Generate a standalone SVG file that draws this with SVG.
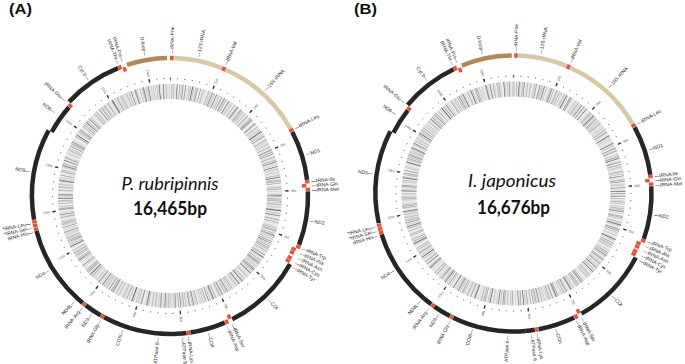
<svg xmlns="http://www.w3.org/2000/svg" width="685" height="364" viewBox="0 0 685 364">
<style>
.s{fill:none;stroke-width:4.5}
.dk{stroke:#262626}.tn{stroke:#d8c9a2}.br{stroke:#b7875a}.rd{stroke:#e2553a}
.lr,.ll{font-family:"Liberation Sans",Arial,sans-serif;font-size:5px;fill:#2a2a2a}
.lr{text-anchor:start}.ll{text-anchor:end}
.tr,.tl{font-family:"Liberation Sans",Arial,sans-serif;font-size:3.4px;fill:#555}
.tr{text-anchor:start}.tl{text-anchor:end}
.b0{fill:none;stroke:#eeeeee;stroke-width:15}
.b1{fill:none;stroke:#d2d2d2;stroke-width:15;stroke-dasharray:0.7 1.1 0.4 0.9 1.3 0.6 0.5 1.8 0.9 0.5 0.3 1.2 1.6 0.7 0.4 1.0 0.8 2.1 0.5 0.6 1.1 0.9 0.3 1.5}
.b2{fill:none;stroke:#a3a3a3;stroke-width:15;stroke-dasharray:0.4 2.2 0.6 3.1 0.3 1.4 0.8 4.3 0.4 2.6 0.5 1.7 0.3 3.8 0.7 2.0 0.4 5.2 0.6 1.1 0.3 2.9}
.b3{fill:none;stroke:#4a4a4a;stroke-width:15;stroke-dasharray:0.3 7.6 0.45 4.3 0.3 9.9 0.5 3.4 0.3 12.8 0.4 5.1 0.3 8.7 0.6 4.6 0.3 14.2 0.4 3.8}
.dot{fill:none;stroke:#555;stroke-width:1}
.maj{fill:none;stroke:#333;stroke-width:3.5}
.sp{font-family:Lato,"Open Sans",sans-serif;font-style:italic;font-size:18px;fill:#111;text-anchor:middle}
.bp{font-family:Lato,"Open Sans",sans-serif;font-weight:bold;font-size:18px;fill:#111;text-anchor:middle}
.ttl{font-family:"Liberation Sans",Arial,sans-serif;font-weight:bold;font-size:14px;fill:#111}
</style>
<text class="ttl" x="9" y="14" textLength="23" lengthAdjust="spacingAndGlyphs">(A)</text>
<text class="ttl" x="354" y="14" textLength="23" lengthAdjust="spacingAndGlyphs">(B)</text>

<g id="mapA" transform="translate(170,196)">
 <g id="A-band">
  <circle class="b0" r="104.5"/><circle class="b1" r="104.5"/><circle class="b2" r="104.5"/><circle class="b3" r="104.5" transform="rotate(37)"/>
 </g>
 <g id="A-scale">
  <circle class="dot" r="117.5" pathLength="16465" stroke-dasharray="25 141.67" stroke-dashoffset="12.5" transform="rotate(-90)"/>
  <circle class="maj" r="117" pathLength="16465" stroke-dasharray="30 970" stroke-dashoffset="15" transform="rotate(-90)"/>
  <text class="tr" transform="rotate(21.87) translate(0,-121) rotate(-90)" dy="1.2">1kb</text>
  <text class="tr" transform="rotate(43.73) translate(0,-121) rotate(-90)" dy="1.2">2kb</text>
  <text class="tr" transform="rotate(65.6) translate(0,-121) rotate(-90)" dy="1.2">3kb</text>
  <text class="tr" transform="rotate(87.46) translate(0,-121) rotate(-90)" dy="1.2">4kb</text>
  <text class="tr" transform="rotate(109.33) translate(0,-121) rotate(-90)" dy="1.2">5kb</text>
  <text class="tr" transform="rotate(131.19) translate(0,-121) rotate(-90)" dy="1.2">6kb</text>
  <text class="tr" transform="rotate(153.06) translate(0,-121) rotate(-90)" dy="1.2">7kb</text>
  <text class="tr" transform="rotate(174.92) translate(0,-121) rotate(-90)" dy="1.2">8kb</text>
  <text class="tl" transform="rotate(196.79) translate(0,-121) rotate(90)" dy="1.2">9kb</text>
  <text class="tl" transform="rotate(218.65) translate(0,-121) rotate(90)" dy="1.2">10kb</text>
  <text class="tl" transform="rotate(240.52) translate(0,-121) rotate(90)" dy="1.2">11kb</text>
  <text class="tl" transform="rotate(262.38) translate(0,-121) rotate(90)" dy="1.2">12kb</text>
  <text class="tl" transform="rotate(284.25) translate(0,-121) rotate(90)" dy="1.2">13kb</text>
  <text class="tl" transform="rotate(306.11) translate(0,-121) rotate(90)" dy="1.2">14kb</text>
  <text class="tl" transform="rotate(327.98) translate(0,-121) rotate(90)" dy="1.2">15kb</text>
  <text class="tl" transform="rotate(349.84) translate(0,-121) rotate(90)" dy="1.2">16kb</text>
 </g>
 <g id="A-genes">
  <g id="A-12S"><circle class="s tn" r="138" pathLength="360" stroke-dasharray="20.6 999" transform="rotate(-88.4)"/><text class="lr" transform="rotate(11.5) translate(0,-142) rotate(-90)" dy="1.7">—12S rRNA</text></g>
  <g id="A-16S"><circle class="s tn" r="138" pathLength="360" stroke-dasharray="37 999" transform="rotate(-66.2)"/><text class="lr" transform="rotate(42) translate(0,-142) rotate(-90)" dy="1.7">—16S rRNA</text></g>
  <g id="A-ND1"><circle class="s dk" r="138" pathLength="360" stroke-dasharray="20.9 999" transform="rotate(-27.6)"/><text class="lr" transform="rotate(73) translate(0,-142) rotate(-90)" dy="1.7">—ND1</text></g>
  <g id="A-ND2"><circle class="s dk" r="138" pathLength="360" stroke-dasharray="22.6 999" transform="rotate(-1.9)"/><text class="lr" transform="rotate(100) translate(0,-142) rotate(-90)" dy="1.7">—ND2</text></g>
  <g id="A-COI"><circle class="s dk" r="138" pathLength="360" stroke-dasharray="33.6 999" transform="rotate(29.6)"/><text class="lr" transform="rotate(136.4) translate(0,-142) rotate(-90)" dy="1.7">—COI</text></g>
  <g id="A-COII"><circle class="s dk" r="138" pathLength="360" stroke-dasharray="14.9 999" transform="rotate(66.6)"/><text class="lr" transform="rotate(164.2) translate(0,-142) rotate(-90)" dy="1.7">—COII</text></g>
  <g id="A-ATP8"><circle class="s dk" r="138" pathLength="360" stroke-dasharray="4 999" transform="rotate(83.1)"/><text class="lr" transform="rotate(174.8) translate(0,-142) rotate(-90)" dy="1.7">—ATPase 8</text></g>
  <g id="A-ATP6"><circle class="s dk" r="138" pathLength="360" stroke-dasharray="16.1 999" transform="rotate(87)"/><text class="ll" transform="rotate(185) translate(0,-142) rotate(90)" dy="1.7">ATPase 6—</text></g>
  <g id="A-COIII"><circle class="s dk" r="138" pathLength="360" stroke-dasharray="15.5 999" transform="rotate(103)"/><text class="ll" transform="rotate(199.5) translate(0,-142) rotate(90)" dy="1.7">COIII—</text></g>
  <g id="A-ND3"><circle class="s dk" r="138" pathLength="360" stroke-dasharray="7.5 999" transform="rotate(120.1)"/><text class="ll" transform="rotate(213.8) translate(0,-142) rotate(90)" dy="1.7">ND3—</text></g>
  <g id="A-ND4L"><circle class="s dk" r="138" pathLength="360" stroke-dasharray="3.4 999" transform="rotate(129.2)"/><text class="ll" transform="rotate(222.3) translate(0,-142) rotate(90)" dy="1.7">ND4L—</text></g>
  <g id="A-ND4"><circle class="s dk" r="138" pathLength="360" stroke-dasharray="32.9 999" transform="rotate(132.4)"/><text class="ll" transform="rotate(238.5) translate(0,-142) rotate(90)" dy="1.7">ND4—</text></g>
  <g id="A-ND5"><circle class="s dk" r="138" pathLength="360" stroke-dasharray="38.3 999" transform="rotate(170.1)"/><text class="ll" transform="rotate(280) translate(0,-142) rotate(90)" dy="1.7">ND5—</text></g>
  <g id="A-ND6"><circle class="s dk" r="134.5" pathLength="360" stroke-dasharray="12.9 999" transform="rotate(208.4)"/><text class="ll" transform="rotate(306) translate(0,-142) rotate(90)" dy="1.7">ND6—</text></g>
  <g id="A-Cytb"><circle class="s dk" r="138" pathLength="360" stroke-dasharray="24.9 999" transform="rotate(223)"/><text class="ll" transform="rotate(325) translate(0,-142) rotate(90)" dy="1.7">Cyt b—</text></g>
  <g id="A-Dloop"><circle class="s br" r="138" pathLength="360" stroke-dasharray="17 999" transform="rotate(251.8)"/><text class="ll" transform="rotate(350) translate(0,-142) rotate(90)" dy="1.7">D-loop—</text></g>
  <g id="A-tPhe"><circle class="s rd" r="138" pathLength="360" stroke-dasharray="1.5 999" transform="rotate(-90)"/><text class="lr" transform="rotate(0.8) translate(0,-142) rotate(-90)" dy="1.7">—tRNA-Phe</text></g>
  <g id="A-tVal"><circle class="s rd" r="138" pathLength="360" stroke-dasharray="1.5 999" transform="rotate(-67.8)"/><text class="lr" transform="rotate(23) translate(0,-142) rotate(-90)" dy="1.7">—tRNA-Val</text></g>
  <g id="A-tLeu"><circle class="s rd" r="138" pathLength="360" stroke-dasharray="1.5 999" transform="rotate(-29.2)"/><text class="lr" transform="rotate(61.6) translate(0,-142) rotate(-90)" dy="1.7">—tRNA-Leu</text></g>
  <g id="A-tIle"><circle class="s rd" r="138" pathLength="360" stroke-dasharray="1.5 999" transform="rotate(-6.7)"/><text class="lr" transform="rotate(84) translate(0,-142) rotate(-90)" dy="1.7">—tRNA-Ile</text></g>
  <g id="A-tGln"><circle class="s rd" r="134.5" pathLength="360" stroke-dasharray="1.5 999" transform="rotate(-5.1)"/><text class="lr" transform="rotate(85.8) translate(0,-142) rotate(-90)" dy="1.7">—tRNA-Gln</text></g>
  <g id="A-tMet"><circle class="s rd" r="138" pathLength="360" stroke-dasharray="1.5 999" transform="rotate(-3.5)"/><text class="lr" transform="rotate(87.6) translate(0,-142) rotate(-90)" dy="1.7">—tRNA-Met</text></g>
  <g id="A-tTrp"><circle class="s rd" r="138" pathLength="360" stroke-dasharray="1.5 999" transform="rotate(20.8)"/><text class="lr" transform="rotate(111.7) translate(0,-142) rotate(-90)" dy="1.7">—tRNA-Trp</text></g>
  <g id="A-tAla"><circle class="s rd" r="134.5" pathLength="360" stroke-dasharray="1.5 999" transform="rotate(22.5)"/><text class="lr" transform="rotate(113.8) translate(0,-142) rotate(-90)" dy="1.7">—tRNA-Ala</text></g>
  <g id="A-tAsn"><circle class="s rd" r="134.5" pathLength="360" stroke-dasharray="1.5 999" transform="rotate(24.1)"/><text class="lr" transform="rotate(115.9) translate(0,-142) rotate(-90)" dy="1.7">—tRNA-Asn</text></g>
  <g id="A-tCys"><circle class="s rd" r="134.5" pathLength="360" stroke-dasharray="1.5 999" transform="rotate(26.4)"/><text class="lr" transform="rotate(118) translate(0,-142) rotate(-90)" dy="1.7">—tRNA-Cys</text></g>
  <g id="A-tTyr"><circle class="s rd" r="134.5" pathLength="360" stroke-dasharray="1.5 999" transform="rotate(28)"/><text class="lr" transform="rotate(120.1) translate(0,-142) rotate(-90)" dy="1.7">—tRNA-Tyr</text></g>
  <g id="A-tSer1"><circle class="s rd" r="134.5" pathLength="360" stroke-dasharray="1.5 999" transform="rotate(63.2)"/><text class="lr" transform="rotate(154) translate(0,-142) rotate(-90)" dy="1.7">—tRNA-Ser</text></g>
  <g id="A-tAsp"><circle class="s rd" r="138" pathLength="360" stroke-dasharray="1.5 999" transform="rotate(65)"/><text class="lr" transform="rotate(156.2) translate(0,-142) rotate(-90)" dy="1.7">—tRNA-Asp</text></g>
  <g id="A-tLys"><circle class="s rd" r="138" pathLength="360" stroke-dasharray="1.5 999" transform="rotate(81.5)"/><text class="lr" transform="rotate(172.4) translate(0,-142) rotate(-90)" dy="1.7">—tRNA-Lys</text></g>
  <g id="A-tGly"><circle class="s rd" r="138" pathLength="360" stroke-dasharray="1.5 999" transform="rotate(118.5)"/><text class="ll" transform="rotate(209.3) translate(0,-142) rotate(90)" dy="1.7">tRNA-Gly—</text></g>
  <g id="A-tArg"><circle class="s rd" r="138" pathLength="360" stroke-dasharray="1.5 999" transform="rotate(127.6)"/><text class="ll" transform="rotate(218.3) translate(0,-142) rotate(90)" dy="1.7">tRNA-Arg—</text></g>
  <g id="A-tHis"><circle class="s rd" r="138" pathLength="360" stroke-dasharray="1.5 999" transform="rotate(165.3)"/><text class="ll" transform="rotate(255.2) translate(0,-142) rotate(90)" dy="1.7">tRNA-His—</text></g>
  <g id="A-tSer2"><circle class="s rd" r="138" pathLength="360" stroke-dasharray="1.5 999" transform="rotate(166.9)"/><text class="ll" transform="rotate(257) translate(0,-142) rotate(90)" dy="1.7">*tRNA-Ser—</text></g>
  <g id="A-tLeu2"><circle class="s rd" r="138" pathLength="360" stroke-dasharray="1.5 999" transform="rotate(168.5)"/><text class="ll" transform="rotate(258.8) translate(0,-142) rotate(90)" dy="1.7">*tRNA-Leu—</text></g>
  <g id="A-tGlu"><circle class="s rd" r="134.5" pathLength="360" stroke-dasharray="1.5 999" transform="rotate(221.4)"/><text class="ll" transform="rotate(312.2) translate(0,-142) rotate(90)" dy="1.7">tRNA-Glu—</text></g>
  <g id="A-tThr"><circle class="s rd" r="138" pathLength="360" stroke-dasharray="1.5 999" transform="rotate(248)"/><text class="ll" transform="rotate(338.6) translate(0,-142) rotate(90)" dy="1.7">tRNA-Thr—</text></g>
  <g id="A-tPro"><circle class="s rd" r="134.5" pathLength="360" stroke-dasharray="1.5 999" transform="rotate(249.6)"/><text class="ll" transform="rotate(340.6) translate(0,-142) rotate(90)" dy="1.7">tRNA-Pro—</text></g>
 </g>
 <g id="A-title">
  <text class="sp" x="0" y="-6" textLength="97" lengthAdjust="spacingAndGlyphs">P. rubripinnis</text>
  <text class="bp" x="0" y="19" textLength="74" lengthAdjust="spacingAndGlyphs">16,465bp</text>
 </g>
</g>

<g id="mapB" transform="translate(513.5,193.5)">
 <g id="B-band">
  <circle class="b0" r="104.5"/><circle class="b1" r="104.5" transform="rotate(53)"/><circle class="b2" r="104.5" transform="rotate(121)"/><circle class="b3" r="104.5" transform="rotate(200)"/>
 </g>
 <g id="B-scale">
  <circle class="dot" r="117.5" pathLength="16676" stroke-dasharray="25 141.67" stroke-dashoffset="12.5" transform="rotate(-90)"/>
  <circle class="maj" r="117" pathLength="16676" stroke-dasharray="30 970" stroke-dashoffset="15" transform="rotate(-90)"/>
  <text class="tr" transform="rotate(21.59) translate(0,-121) rotate(-90)" dy="1.2">1kb</text>
  <text class="tr" transform="rotate(43.18) translate(0,-121) rotate(-90)" dy="1.2">2kb</text>
  <text class="tr" transform="rotate(64.76) translate(0,-121) rotate(-90)" dy="1.2">3kb</text>
  <text class="tr" transform="rotate(86.35) translate(0,-121) rotate(-90)" dy="1.2">4kb</text>
  <text class="tr" transform="rotate(107.94) translate(0,-121) rotate(-90)" dy="1.2">5kb</text>
  <text class="tr" transform="rotate(129.53) translate(0,-121) rotate(-90)" dy="1.2">6kb</text>
  <text class="tr" transform="rotate(151.12) translate(0,-121) rotate(-90)" dy="1.2">7kb</text>
  <text class="tr" transform="rotate(172.7) translate(0,-121) rotate(-90)" dy="1.2">8kb</text>
  <text class="tl" transform="rotate(194.29) translate(0,-121) rotate(90)" dy="1.2">9kb</text>
  <text class="tl" transform="rotate(215.88) translate(0,-121) rotate(90)" dy="1.2">10kb</text>
  <text class="tl" transform="rotate(237.47) translate(0,-121) rotate(90)" dy="1.2">11kb</text>
  <text class="tl" transform="rotate(259.06) translate(0,-121) rotate(90)" dy="1.2">12kb</text>
  <text class="tl" transform="rotate(280.64) translate(0,-121) rotate(90)" dy="1.2">13kb</text>
  <text class="tl" transform="rotate(302.23) translate(0,-121) rotate(90)" dy="1.2">14kb</text>
  <text class="tl" transform="rotate(323.82) translate(0,-121) rotate(90)" dy="1.2">15kb</text>
  <text class="tl" transform="rotate(345.41) translate(0,-121) rotate(90)" dy="1.2">16kb</text>
 </g>
 <g id="B-genes">
  <g id="B-12S"><circle class="s tn" r="138" pathLength="360" stroke-dasharray="20.8 999" transform="rotate(-88.1)"/><text class="lr" transform="rotate(11) translate(0,-142) rotate(-90)" dy="1.7">—12S rRNA</text></g>
  <g id="B-16S"><circle class="s tn" r="138" pathLength="360" stroke-dasharray="35.5 999" transform="rotate(-65.7)"/><text class="lr" transform="rotate(42) translate(0,-142) rotate(-90)" dy="1.7">—16S rRNA</text></g>
  <g id="B-ND1"><circle class="s dk" r="138" pathLength="360" stroke-dasharray="20.8 999" transform="rotate(-28.6)"/><text class="lr" transform="rotate(72) translate(0,-142) rotate(-90)" dy="1.7">—ND1</text></g>
  <g id="B-ND2"><circle class="s dk" r="138" pathLength="360" stroke-dasharray="22.2 999" transform="rotate(-3)"/><text class="lr" transform="rotate(98.6) translate(0,-142) rotate(-90)" dy="1.7">—ND2</text></g>
  <g id="B-COI"><circle class="s dk" r="138" pathLength="360" stroke-dasharray="32.9 999" transform="rotate(27.6)"/><text class="lr" transform="rotate(136) translate(0,-142) rotate(-90)" dy="1.7">—COI</text></g>
  <g id="B-COII"><circle class="s dk" r="138" pathLength="360" stroke-dasharray="15.6 999" transform="rotate(63.9)"/><text class="lr" transform="rotate(162.5) translate(0,-142) rotate(-90)" dy="1.7">—COII</text></g>
  <g id="B-ATP8"><circle class="s dk" r="138" pathLength="360" stroke-dasharray="4 999" transform="rotate(81.1)"/><text class="lr" transform="rotate(172.6) translate(0,-142) rotate(-90)" dy="1.7">—ATPase 8</text></g>
  <g id="B-ATP6"><circle class="s dk" r="138" pathLength="360" stroke-dasharray="16 999" transform="rotate(85)"/><text class="ll" transform="rotate(182.5) translate(0,-142) rotate(90)" dy="1.7">ATPase 6—</text></g>
  <g id="B-COIII"><circle class="s dk" r="138" pathLength="360" stroke-dasharray="15.1 999" transform="rotate(100.8)"/><text class="ll" transform="rotate(197) translate(0,-142) rotate(90)" dy="1.7">COIII—</text></g>
  <g id="B-ND3"><circle class="s dk" r="138" pathLength="360" stroke-dasharray="7.6 999" transform="rotate(117.4)"/><text class="ll" transform="rotate(212) translate(0,-142) rotate(90)" dy="1.7">ND3—</text></g>
  <g id="B-ND4L"><circle class="s dk" r="138" pathLength="360" stroke-dasharray="3.5 999" transform="rotate(126.6)"/><text class="ll" transform="rotate(221) translate(0,-142) rotate(90)" dy="1.7">ND4L—</text></g>
  <g id="B-ND4"><circle class="s dk" r="138" pathLength="360" stroke-dasharray="32.9 999" transform="rotate(129.9)"/><text class="ll" transform="rotate(237.3) translate(0,-142) rotate(90)" dy="1.7">ND4—</text></g>
  <g id="B-ND5"><circle class="s dk" r="138" pathLength="360" stroke-dasharray="39.2 999" transform="rotate(167.6)"/><text class="ll" transform="rotate(278) translate(0,-142) rotate(90)" dy="1.7">ND5—</text></g>
  <g id="B-ND6"><circle class="s dk" r="134.5" pathLength="360" stroke-dasharray="11.4 999" transform="rotate(206.8)"/><text class="ll" transform="rotate(304) translate(0,-142) rotate(90)" dy="1.7">ND6—</text></g>
  <g id="B-Cytb"><circle class="s dk" r="138" pathLength="360" stroke-dasharray="24.4 999" transform="rotate(219.9)"/><text class="ll" transform="rotate(322.7) translate(0,-142) rotate(90)" dy="1.7">Cyt b—</text></g>
  <g id="B-Dloop"><circle class="s br" r="138" pathLength="360" stroke-dasharray="21.3 999" transform="rotate(248)"/><text class="ll" transform="rotate(347.5) translate(0,-142) rotate(90)" dy="1.7">D-loop—</text></g>
  <g id="B-tPhe"><circle class="s rd" r="138" pathLength="360" stroke-dasharray="1.5 999" transform="rotate(-89.7)"/><text class="lr" transform="rotate(1) translate(0,-142) rotate(-90)" dy="1.7">—tRNA-Phe</text></g>
  <g id="B-tVal"><circle class="s rd" r="138" pathLength="360" stroke-dasharray="1.5 999" transform="rotate(-67.3)"/><text class="lr" transform="rotate(23.5) translate(0,-142) rotate(-90)" dy="1.7">—tRNA-Val</text></g>
  <g id="B-tLeu"><circle class="s rd" r="138" pathLength="360" stroke-dasharray="1.5 999" transform="rotate(-30.2)"/><text class="lr" transform="rotate(60.6) translate(0,-142) rotate(-90)" dy="1.7">—tRNA-Leu</text></g>
  <g id="B-tIle"><circle class="s rd" r="138" pathLength="360" stroke-dasharray="1.5 999" transform="rotate(-7.8)"/><text class="lr" transform="rotate(83) translate(0,-142) rotate(-90)" dy="1.7">—tRNA-Ile</text></g>
  <g id="B-tGln"><circle class="s rd" r="134.5" pathLength="360" stroke-dasharray="1.5 999" transform="rotate(-6.2)"/><text class="lr" transform="rotate(84.8) translate(0,-142) rotate(-90)" dy="1.7">—tRNA-Gln</text></g>
  <g id="B-tMet"><circle class="s rd" r="138" pathLength="360" stroke-dasharray="1.5 999" transform="rotate(-4.6)"/><text class="lr" transform="rotate(86.6) translate(0,-142) rotate(-90)" dy="1.7">—tRNA-Met</text></g>
  <g id="B-tTrp"><circle class="s rd" r="138" pathLength="360" stroke-dasharray="1.5 999" transform="rotate(19.2)"/><text class="lr" transform="rotate(109.7) translate(0,-142) rotate(-90)" dy="1.7">—tRNA-Trp</text></g>
  <g id="B-tAla"><circle class="s rd" r="134.5" pathLength="360" stroke-dasharray="1.5 999" transform="rotate(20.9)"/><text class="lr" transform="rotate(111.8) translate(0,-142) rotate(-90)" dy="1.7">—tRNA-Ala</text></g>
  <g id="B-tAsn"><circle class="s rd" r="134.5" pathLength="360" stroke-dasharray="1.5 999" transform="rotate(22.5)"/><text class="lr" transform="rotate(113.8) translate(0,-142) rotate(-90)" dy="1.7">—tRNA-Asn</text></g>
  <g id="B-tCys"><circle class="s rd" r="134.5" pathLength="360" stroke-dasharray="1.5 999" transform="rotate(24.5)"/><text class="lr" transform="rotate(115.9) translate(0,-142) rotate(-90)" dy="1.7">—tRNA-Cys</text></g>
  <g id="B-tTyr"><circle class="s rd" r="134.5" pathLength="360" stroke-dasharray="1.5 999" transform="rotate(26)"/><text class="lr" transform="rotate(118) translate(0,-142) rotate(-90)" dy="1.7">—tRNA-Tyr</text></g>
  <g id="B-tSer1"><circle class="s rd" r="134.5" pathLength="360" stroke-dasharray="1.5 999" transform="rotate(60.5)"/><text class="lr" transform="rotate(151.3) translate(0,-142) rotate(-90)" dy="1.7">—tRNA-Ser</text></g>
  <g id="B-tAsp"><circle class="s rd" r="138" pathLength="360" stroke-dasharray="1.5 999" transform="rotate(62.3)"/><text class="lr" transform="rotate(153.6) translate(0,-142) rotate(-90)" dy="1.7">—tRNA-Asp</text></g>
  <g id="B-tLys"><circle class="s rd" r="138" pathLength="360" stroke-dasharray="1.5 999" transform="rotate(79.5)"/><text class="lr" transform="rotate(170.3) translate(0,-142) rotate(-90)" dy="1.7">—tRNA-Lys</text></g>
  <g id="B-tGly"><circle class="s rd" r="138" pathLength="360" stroke-dasharray="1.5 999" transform="rotate(115.8)"/><text class="ll" transform="rotate(206.6) translate(0,-142) rotate(90)" dy="1.7">tRNA-Gly—</text></g>
  <g id="B-tArg"><circle class="s rd" r="138" pathLength="360" stroke-dasharray="1.5 999" transform="rotate(125)"/><text class="ll" transform="rotate(216.5) translate(0,-142) rotate(90)" dy="1.7">tRNA-Arg—</text></g>
  <g id="B-tHis"><circle class="s rd" r="138" pathLength="360" stroke-dasharray="1.5 999" transform="rotate(162.8)"/><text class="ll" transform="rotate(252.8) translate(0,-142) rotate(90)" dy="1.7">tRNA-His—</text></g>
  <g id="B-tSer2"><circle class="s rd" r="138" pathLength="360" stroke-dasharray="1.5 999" transform="rotate(164.4)"/><text class="ll" transform="rotate(254.6) translate(0,-142) rotate(90)" dy="1.7">*tRNA-Ser—</text></g>
  <g id="B-tLeu2"><circle class="s rd" r="138" pathLength="360" stroke-dasharray="1.5 999" transform="rotate(166)"/><text class="ll" transform="rotate(256.4) translate(0,-142) rotate(90)" dy="1.7">*tRNA-Leu—</text></g>
  <g id="B-tGlu"><circle class="s rd" r="134.5" pathLength="360" stroke-dasharray="1.5 999" transform="rotate(218.3)"/><text class="ll" transform="rotate(309.8) translate(0,-142) rotate(90)" dy="1.7">tRNA-Glu—</text></g>
  <g id="B-tThr"><circle class="s rd" r="138" pathLength="360" stroke-dasharray="1.5 999" transform="rotate(244.3)"/><text class="ll" transform="rotate(334.8) translate(0,-142) rotate(90)" dy="1.7">tRNA-Thr—</text></g>
  <g id="B-tPro"><circle class="s rd" r="134.5" pathLength="360" stroke-dasharray="1.5 999" transform="rotate(245.9)"/><text class="ll" transform="rotate(336.8) translate(0,-142) rotate(90)" dy="1.7">tRNA-Pro—</text></g>
 </g>
 <g id="B-title">
  <text class="sp" x="-1.5" y="-6.5" textLength="88" lengthAdjust="spacingAndGlyphs">I. japonicus</text>
  <text class="bp" x="0" y="20.5" textLength="73" lengthAdjust="spacingAndGlyphs">16,676bp</text>
 </g>
</g>
</svg>
